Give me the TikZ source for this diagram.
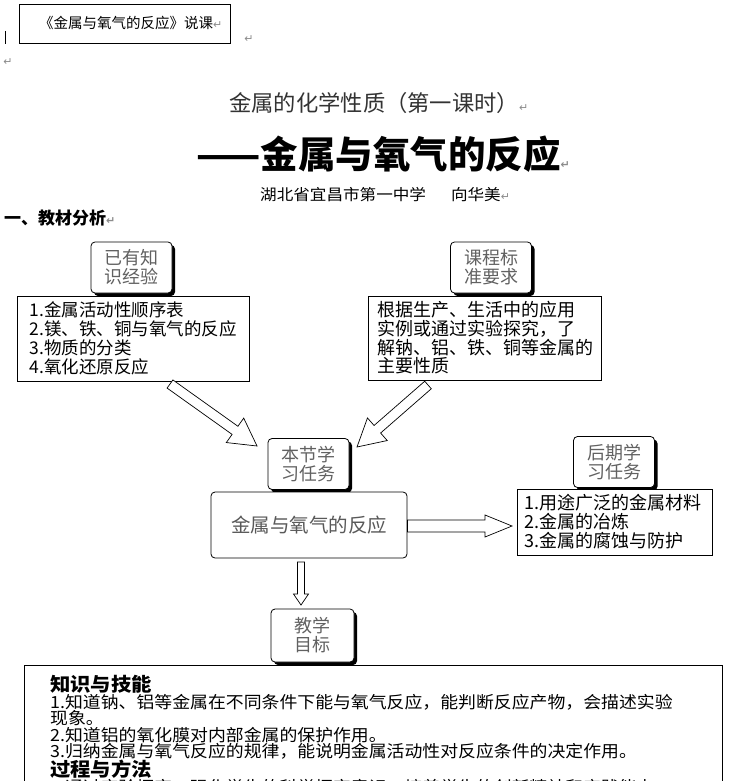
\documentclass[tikz,border=0pt]{standalone}
\usepackage{fontspec}
\setmainfont{Noto Sans CJK SC}
\newfontfamily\dvs{DejaVu Sans}
\newfontfamily\cjkw[FakeStretch=1.07]{Noto Sans CJK SC}
\usetikzlibrary{calc,shadows}
\newcommand\pmk{{\dvs\color{black!45}\fontsize{11}{11}\selectfont ↵}}
\newcommand\fs[2]{\fontsize{#1}{#2}\selectfont}
\newcommand\blockarrow[5]{%
  \coordinate (hb) at ($(#2)!#5!(#1)$);
  \draw[harrow] ($(#1)!#3!90:(#2)$) -- ($(hb)!#3!90:(#2)$) -- ($(hb)!#4!90:(#2)$) -- (#2)
    -- ($(hb)!#4!-90:(#2)$) -- ($(hb)!#3!-90:(#2)$) -- ($(#1)!#3!-90:(#2)$) -- cycle;}
\begin{document}
\begin{tikzpicture}[x=1pt,y=-1pt,
  every node/.style={inner sep=0pt},
  lab/.style={draw, line width=0.8pt, rounded corners=4pt, fill=white,
    minimum width=81pt, minimum height=51pt, align=center, text=black!62,
    font=\fs{18}{19},
    general shadow={fill=black, shadow xshift=3pt, shadow yshift=-3pt}},
  cbox/.style={draw, line width=0.8pt, fill=white},
  ctext/.style={anchor=west, align=left, font=\fs{17.5}{19}},
  harrow/.style={draw, fill=white, line width=0.7pt, line join=miter}]
\useasboundingbox (0,0) rectangle (728,781);
\fill[white] (0,0) rectangle (728,781);

% header
\draw[line width=1pt] (5,31) -- (5,44);
\node[cbox, minimum width=211pt, minimum height=39pt, anchor=north west] (hdr) at (19,4) {};
\node[anchor=west, font=\fs{14.5}{14.5}] (hdrt) at (39,23) {《金属与氧气的反应》说课\pmk};
\node (pm1) at (249,39) {\pmk};
\node (pm2) at (8,62) {\pmk};

% titles
\node[anchor=west, font=\fs{22.3}{22.3}, text=black!80] (t1) at (229,103) {金属的化学性质（第一课时）\pmk};
\node[anchor=west, font=\fs{37.5}{37.5}\bfseries] (t2) at (196,154) {——金属与氧气的反应\pmk};
\node[anchor=west, font=\cjkw\fs{15.5}{15.5}] (t3) at (260,195) {湖北省宜昌市第一中学\hspace{25pt}向华美\pmk};
\node[anchor=west, font=\fs{17}{17}\bfseries] (sec) at (4,218) {一、教材分析\pmk};

% left / right upper boxes
\node[lab] (known) at (131.5,267.5) {已有知\\识经验};
\node[cbox, minimum width=232pt, minimum height=85pt] (kbox) at (133,338.5) {};
\node[ctext] (ktext) at ($(kbox.west)+(13,0)$) {1.金属活动性顺序表\\2.镁、铁、铜与氧气的反应\\3.物质的分类\\4.氧化还原反应};

\node[lab] (std) at (491,267.5) {课程标\\准要求};
\node[cbox, minimum width=233pt, minimum height=84pt] (sbox) at (484.5,338) {};
\node[ctext, font=\fs{18}{18.7}] (stext) at ($(sbox.west)+(10,0)$) {根据生产、生活中的应用\\实例或通过实验探究，了\\解钠、铝、铁、铜等金属的\\主要性质};

% center
\node[lab] (task) at (308.5,464) {本节学\\习任务};
\node[draw, line width=0.8pt, rounded corners=4pt, fill=white, minimum width=196pt, minimum height=66pt,
  text=black!65, font=\fs{19.5}{19.5}] (rxn) at (309,525) {金属与氧气的反应};

% later
\node[lab] (later) at (614,462) {后期学\\习任务};
\node[cbox, minimum width=195pt, minimum height=66pt] (lbox) at (614.5,522) {};
\node[ctext, font=\fs{18}{19}] (ltext) at ($(lbox.west)+(8,0)$) {1.用途广泛的金属材料\\2.金属的冶炼\\3.金属的腐蚀与防护};

% goals
\node[lab, minimum width=83pt, minimum height=53pt] (goal) at (312.5,635.5) {教学\\目标};
\node[cbox, minimum width=698pt, minimum height=200pt, anchor=north west] (gbox) at (24,665) {};
\node[anchor=north west, align=left, font=\cjkw\fs{16.7}{16.5}] (gtext) at (50,675)
 {{\bfseries\fs{19}{16.5}知识与技能}\\
  1.知道钠、铝等金属在不同条件下能与氧气反应，能判断反应产物，会描述实验\\
  现象。\\
  2.知道铝的氧化膜对内部金属的保护作用。\\
  3.归纳金属与氧气反应的规律，能说明金属活动性对反应条件的决定作用。\\
  {\bfseries\fs{19}{16.5}过程与方法}\\
  1.通过实验探究，强化学生的科学探究意识，培养学生的创新精神和实践能力};

% block arrows
\coordinate (a1s) at (170,384);
\coordinate (a1e) at (257,446);
\coordinate (a2s) at (428,385);
\coordinate (a2e) at (357,447);
\coordinate (a3e) at (512,526);
\coordinate (a4s) at (301,562);
\coordinate (a4e) at (301,605);
\coordinate (a3s) at (rxn.east |- a3e);
\blockarrow{a1s}{a1e}{5pt}{15pt}{27pt}
\blockarrow{a2s}{a2e}{5pt}{15pt}{27pt}
\blockarrow{a3s}{a3e}{6pt}{11pt}{27pt}
\blockarrow{a4s}{a4e}{3.5pt}{7.5pt}{11pt}
\end{tikzpicture}
\end{document}
